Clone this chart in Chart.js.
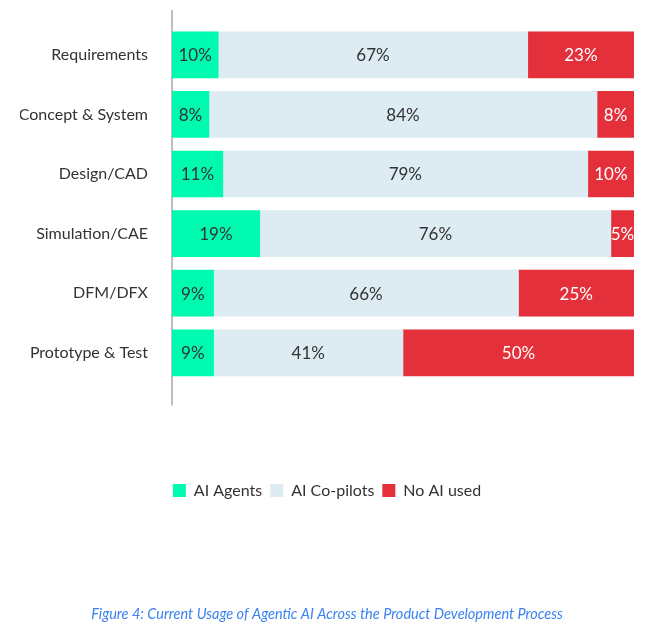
<!DOCTYPE html>
<html>
<head>
<meta charset="utf-8">
<script src="https://cdn.jsdelivr.net/npm/chart.js@4"></script>
<style>
  html, body { margin: 0; padding: 0; background: #fff; }
  #wrap { width: 656px; height: 628px; }
</style>
</head>
<body>
<div id="wrap"><canvas id="grafico"></canvas></div>
<script>
// Datos
const etapas = ["Requirements", "Concept & System", "Design/CAD", "Simulation/CAE", "DFM/DFX", "Prototype & Test"];
const agentes = [10, 8, 11, 19, 9, 9];
const copilotos = [67, 84, 79, 76, 66, 41];
const sinIA = [23, 8, 10, 5, 25, 50];
const series = ["AI Agents", "AI Co-pilots", "No AI used"];
const colores = ["#00FAB0", "#DDEBF3", "#E3303A"];
const textoEtiqueta = ["#333333", "#333333", "#ffffff"];

Chart.defaults.font.family = "Lato, 'Noto Sans', sans-serif";

// Etiquetas de porcentaje dentro de cada barra
const etiquetas = {
  id: "etiquetas",
  afterDatasetsDraw(chart) {
    const ctx = chart.ctx;
    ctx.save();
    ctx.font = "17px Lato";
    ctx.textAlign = "center";
    ctx.textBaseline = "middle";
    chart.data.datasets.forEach((ds, i) => {
      chart.getDatasetMeta(i).data.forEach((bar, j) => {
        const p = bar.getCenterPoint();
        ctx.fillStyle = textoEtiqueta[i];
        ctx.fillText(ds.data[j] + "%", p.x, p.y + 1);
      });
    });
    ctx.restore();
  }
};

// Línea vertical del eje
const ejeLinea = {
  id: "ejeLinea",
  beforeDatasetsDraw(chart) {
    const { ctx, chartArea } = chart;
    ctx.save();
    ctx.strokeStyle = "#a8a8a8";
    ctx.lineWidth = 1.5;
    ctx.beginPath();
    ctx.moveTo(chartArea.left, chartArea.top - 15);
    ctx.lineTo(chartArea.left, chartArea.bottom + 23);
    ctx.stroke();
    ctx.restore();
  }
};

const ctx = document.getElementById("grafico").getContext("2d");
window.grafico = new Chart(ctx, {
  type: "bar",
  data: {
    labels: etapas,
    datasets: [
      { label: series[0], data: agentes, backgroundColor: colores[0] },
      { label: series[1], data: copilotos, backgroundColor: colores[1] },
      { label: series[2], data: sinIA, backgroundColor: colores[2] }
    ]
  },
  options: {
    indexAxis: "y",
    responsive: true,
    maintainAspectRatio: false,
    animation: false,
    layout: { padding: { left: 20, right: 22, top: 25, bottom: 0 } },
    datasets: { bar: { barThickness: 46 } },
    scales: {
      x: {
        stacked: true, min: 0, max: 100,
        grid: { display: false, drawTicks: false },
        border: { display: false },
        ticks: { display: false },
        afterFit(scale) {
          scale.height = 92;
          scale.paddingLeft = 0;
          scale.paddingRight = 0;
        }
      },
      y: {
        stacked: true,
        grid: { display: false, drawTicks: false, tickLength: 0 },
        border: { display: false },
        ticks: { color: "#333333", font: { size: 16 }, padding: 24 },
        afterFit(scale) {
          scale.width = 152;
          scale.paddingTop = 0;
          scale.paddingBottom = 0;
        }
      }
    },
    plugins: {
      tooltip: { enabled: false },
      legend: {
        position: "bottom",
        labels: { color: "#333333", font: { size: 16 }, boxWidth: 13, boxHeight: 13, padding: 8 }
      },
      title: {
        display: true,
        position: "bottom",
        text: "Figure 4: Current Usage of Agentic AI Across the Product Development Process",
        color: "#3B82F0",
        font: { size: 14.5, style: "italic", weight: "normal" },
        padding: { top: 97, bottom: 5 }
      }
    }
  },
  plugins: [etiquetas, ejeLinea]
});
</script>
</body>
</html>
